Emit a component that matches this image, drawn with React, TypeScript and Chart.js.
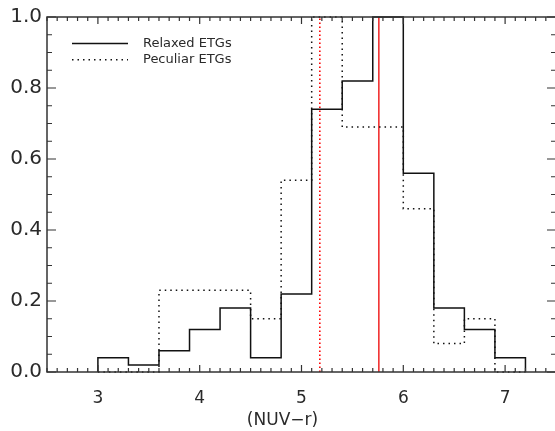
import React, { useEffect, useRef } from "react";
import { Chart, registerables } from "chart.js";
Chart.register(...registerables);

const binEdges = [3.0, 3.3, 3.6, 3.9, 4.2, 4.5, 4.8, 5.1, 5.4, 5.7, 6.0, 6.3, 6.6, 6.9, 7.2];
const relaxedValues = [0.04, 0.02, 0.06, 0.12, 0.18, 0.04, 0.22, 0.74, 0.82, 1.0, 0.56, 0.18, 0.12, 0.04];
const peculiarValues = [0, 0, 0.23, 0.23, 0.23, 0.15, 0.54, 1.0, 0.69, 0.69, 0.46, 0.08, 0.15, 0];
const relaxedMedian = 5.76;
const peculiarMedian = 5.18;
const xTickValues = [3, 4, 5, 6, 7];
const yTickValues = [0.0, 0.2, 0.4, 0.6, 0.8, 1.0];
const seriesLabels = ["Relaxed ETGs", "Peculiar ETGs"];
const xTitle = "(NUV\u2212r)";
const xRange = [2.5, 7.5];
const yRange = [0, 1.0];

const FONT = "'DejaVu Sans', 'Liberation Sans', sans-serif";

function stepPoints(edges: number[], values: number[]) {
  const pts: { x: number; y: number }[] = [{ x: edges[0], y: 0 }];
  values.forEach((v, i) => pts.push({ x: edges[i], y: v }));
  pts.push({ x: edges[edges.length - 1], y: 0 });
  return pts;
}

const framePlugin = {
  id: "frame",
  afterDraw(chart: any) {
    const { ctx, chartArea: a, scales } = chart;
    const x = scales.x;
    const y = scales.y;
    ctx.save();
    ctx.strokeStyle = "#333";
    ctx.lineWidth = 1.5;
    ctx.strokeRect(a.left, a.top, a.right - a.left, a.bottom - a.top);
    ctx.lineWidth = 1.2;
    // x ticks (bottom & top), minor every 0.1
    for (let i = Math.ceil(x.min * 10); i <= Math.floor(x.max * 10); i++) {
      const px = x.getPixelForValue(i / 10);
      const len = i % 10 === 0 ? 7 : 4;
      ctx.beginPath();
      ctx.moveTo(px, a.bottom);
      ctx.lineTo(px, a.bottom - len);
      ctx.moveTo(px, a.top);
      ctx.lineTo(px, a.top + len);
      ctx.stroke();
    }
    // y ticks (left & right), minor every 0.05
    for (let i = 0; i <= Math.round((y.max - y.min) / 0.05); i++) {
      const py = y.getPixelForValue(y.min + i * 0.05);
      const len = i % 4 === 0 ? 9 : 5;
      ctx.beginPath();
      ctx.moveTo(a.left, py);
      ctx.lineTo(a.left + len, py);
      ctx.moveTo(a.right, py);
      ctx.lineTo(a.right - len, py);
      ctx.stroke();
    }
    // axis title
    ctx.fillStyle = "#2a2a2a";
    ctx.font = `17px ${FONT}`;
    ctx.textAlign = "center";
    ctx.textBaseline = "middle";
    ctx.fillText(xTitle, a.left + 235.5, 421);
    // legend
    ctx.font = `13px ${FONT}`;
    ctx.textAlign = "left";
    const rows = chart.data.datasets.filter((d: any) => d.label);
    rows.forEach((d: any, i: number) => {
      const ly = a.top + 26.5 + i * 16.2;
      ctx.strokeStyle = d.borderColor;
      ctx.lineWidth = d.borderWidth;
      ctx.setLineDash(d.borderDash || []);
      ctx.beginPath();
      ctx.moveTo(a.left + 25, ly);
      ctx.lineTo(a.left + 81, ly);
      ctx.stroke();
      ctx.setLineDash([]);
      ctx.fillStyle = "#2a2a2a";
      ctx.fillText(d.label, a.left + 96, ly);
    });
    ctx.restore();
  },
};

export default function App() {
  const ref = useRef<HTMLCanvasElement>(null);
  useEffect(() => {
    if (!ref.current) return;
    const chart = new Chart(ref.current, {
      type: "line",
      data: {
        datasets: [
          {
            label: seriesLabels[0],
            data: stepPoints(binEdges, relaxedValues),
            stepped: "before",
            borderColor: "#111",
            borderWidth: 1.5,
            pointRadius: 0,
            fill: false,
            clip: false,
          },
          {
            label: seriesLabels[1],
            data: stepPoints(binEdges, peculiarValues),
            stepped: "before",
            borderColor: "#111",
            borderWidth: 1.5,
            borderDash: [1.5, 4],
            pointRadius: 0,
            fill: false,
            clip: false,
          },
          {
            data: [
              { x: relaxedMedian, y: yRange[0] },
              { x: relaxedMedian, y: yRange[1] },
            ],
            borderColor: "#ee0000",
            borderWidth: 1.3,
            pointRadius: 0,
            fill: false,
          },
          {
            data: [
              { x: peculiarMedian, y: yRange[0] },
              { x: peculiarMedian, y: yRange[1] },
            ],
            borderColor: "#ff0000",
            borderWidth: 1.6,
            borderDash: [1.6, 2.4],
            pointRadius: 0,
            fill: false,
          },
        ],
      } as any,
      options: {
        responsive: false,
        animation: false,
        devicePixelRatio: 1,
        layout: { padding: { top: 13, right: 1, left: 0, bottom: 0 } },
        plugins: { legend: { display: false }, tooltip: { enabled: false } },
        scales: {
          x: {
            type: "linear",
            min: xRange[0],
            max: xRange[1],
            grid: { display: false, drawTicks: false },
            border: { display: false },
            afterBuildTicks: (s: any) => {
              s.ticks = xTickValues.map((v) => ({ value: v }));
            },
            afterFit: (s: any) => {
              s.height = 59;
            },
            ticks: {
              padding: 16,
              color: "#2a2a2a",
              font: { family: FONT, size: 17 },
              maxRotation: 0,
              callback: (v: any) => String(v),
            },
          },
          y: {
            type: "linear",
            min: yRange[0],
            max: yRange[1],
            grid: { display: false, drawTicks: false },
            border: { display: false },
            afterBuildTicks: (s: any) => {
              s.ticks = yTickValues.map((v) => ({ value: v }));
            },
            afterFit: (s: any) => {
              s.width = 47;
            },
            ticks: {
              padding: 5,
              color: "#2a2a2a",
              font: { family: FONT, size: 20 },
              callback: (v: any) => Number(v).toFixed(1),
            },
          },
        },
      } as any,
      plugins: [framePlugin],
    });
    return () => chart.destroy();
  }, []);
  return (
    <div style={{ position: "fixed", left: 0, top: 0, width: 555, height: 431, overflow: "hidden", background: "#fff" }}>
      <canvas ref={ref} width={557} height={431} style={{ display: "block", width: 557, height: 431 }} />
    </div>
  );
}
